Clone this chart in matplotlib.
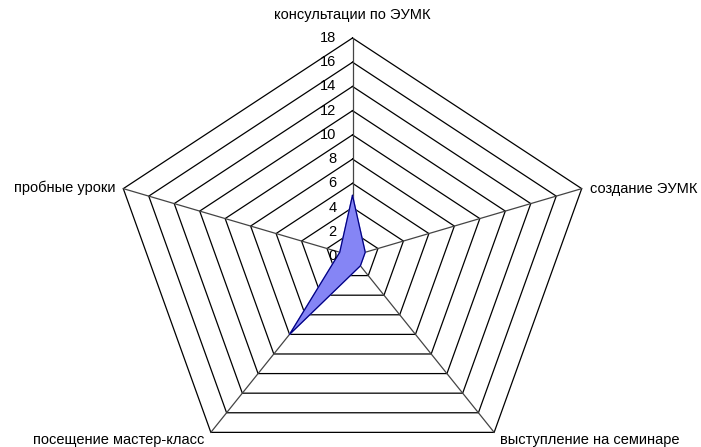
import numpy as np
import matplotlib
matplotlib.use("Agg")
import matplotlib.pyplot as plt

categories = ["консультации по ЭУМК", "создание ЭУМК", "выступление на семинаре",
              "посещение мастер-класс", "пробные уроки"]
values = [5, 1, 1, 8, 1]
ticks = [0, 2, 4, 6, 8, 10, 12, 14, 16, 18]
rmax = 18

# pixel geometry of the (slightly stretched) pentagon
cx, cy = 352.5, 256
kx, ky = 241 / rmax, 218 / rmax


def to_xy(r, i):
    ang = 2 * np.pi * i / len(categories)
    return cx + r * kx * np.sin(ang), cy - r * ky * np.cos(ang)


def main():
    plt.rcParams['font.family'] = ['Liberation Sans', 'DejaVu Sans']
    fig = plt.figure(figsize=(7.01, 4.47), dpi=100)
    ax = fig.add_axes([0, 0, 1, 1])
    ax.set_xlim(0, 701)
    ax.set_ylim(447, 0)
    ax.axis('off')

    n = len(categories)
    idx = list(range(n)) + [0]

    # rings
    for t in ticks[1:]:
        xs, ys = zip(*[to_xy(t, i) for i in idx])
        ax.plot(xs, ys, color='black', lw=0.9, zorder=1)

    # spokes
    for i in range(n):
        x1, y1 = to_xy(rmax, i)
        ax.plot([cx, x1], [cy, y1], color='#444444', lw=0.9, zorder=1)

    # data polygon
    xs, ys = zip(*[to_xy(values[i], i) for i in idx])
    ax.fill(xs, ys, color='#8585f5', zorder=2)
    ax.plot(xs, ys, color='#000080', lw=0.9, zorder=3)

    # tick labels
    for t in ticks:
        x, y = to_xy(t, 0)
        ax.text(x - 16, y, str(t), ha='right', va='center', fontsize=10.5, zorder=4)

    # category labels
    fs = 10.5
    ax.text(352, 15, categories[0], ha='center', va='center', fontsize=fs)
    ax.text(590, 189, categories[1], ha='left', va='center', fontsize=fs)
    ax.text(500, 440, categories[2], ha='left', va='center', fontsize=fs)
    ax.text(204, 440, categories[3], ha='right', va='center', fontsize=fs)
    ax.text(116, 188, categories[4], ha='right', va='center', fontsize=fs)

    fig.savefig("out.png", dpi=100)
    plt.close(fig)


if __name__ == "__main__":
    main()
